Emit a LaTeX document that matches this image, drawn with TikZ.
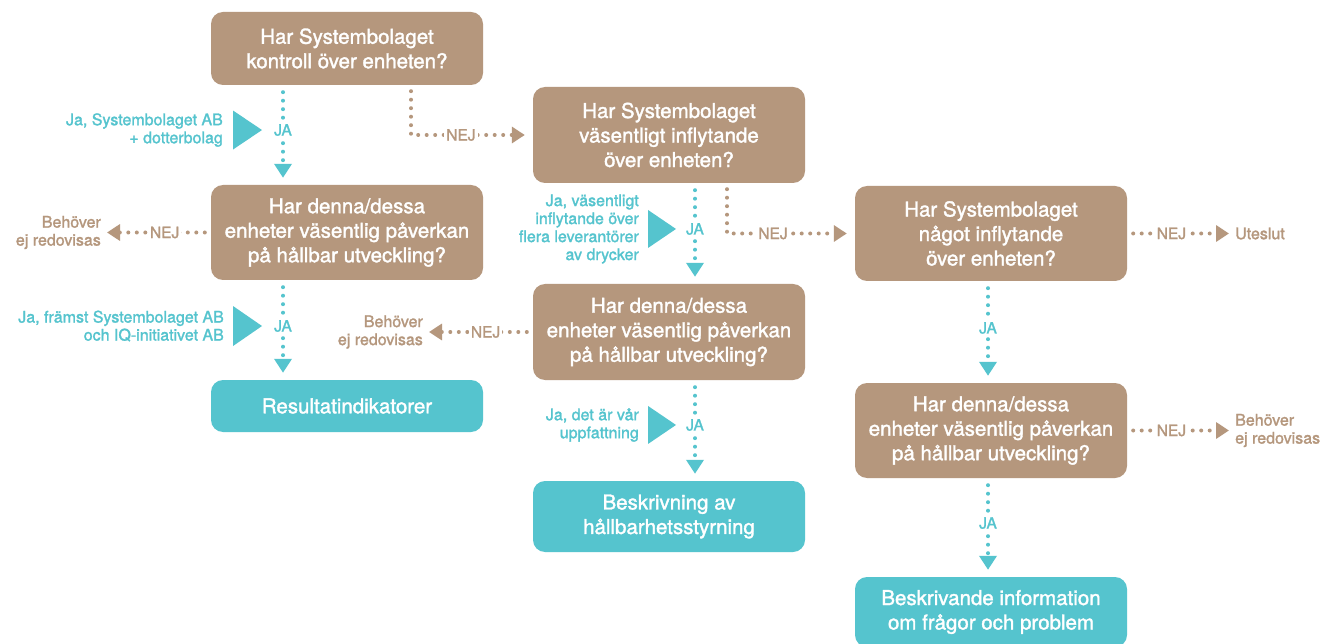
\documentclass[tikz,border=0pt]{standalone}
\usepackage{fontspec}
\setmainfont{TeX Gyre Heros}[FakeBold=1.6]
\usetikzlibrary{arrows.meta}
\definecolor{brn}{HTML}{B5977D}
\definecolor{tl}{HTML}{55C4CE}
\begin{document}
\begin{tikzpicture}[x=1pt,y=-1pt,
 box/.style={rounded corners=12pt, minimum width=272pt, align=center, text=white, font=\fontsize{20.5}{24.5}\selectfont, inner sep=0pt},
 qbox/.style={box, fill=brn},
 rbox/.style={box, fill=tl},
 dots/.style={line width=4pt, line cap=round, dash pattern=on 0pt off 8.5pt},
 jaline/.style={dots, tl, -{Triangle[width=17pt,length=14pt]}, shorten <=7pt, shorten >=7pt},
 nejline/.style={dots, brn, -{Triangle[width=16pt,length=13pt]}, shorten <=6pt, shorten >=6pt},
 lbl/.style={fill=white, font=\fontsize{15.5}{18}\selectfont, inner sep=2pt},
 jalbl/.style={lbl, text=tl},
 nejlbl/.style={lbl, text=brn},
 side/.style={font=\fontsize{16}{18}\selectfont, align=right, text=tl, inner sep=0pt, anchor=east},
 outl/.style={font=\fontsize{16}{18}\selectfont, text=brn, inner sep=0pt},
 flag/.style={fill=tl}
]
\clip (0,0) rectangle (1325,644);
\fill[white] (0,0) rectangle (1325,644);

% boxes
\node[qbox, minimum height=73pt] (b1) at (347,48.5) {Har Systembolaget\\kontroll över enheten?};
\node[qbox, minimum height=96pt] (b2) at (669,135) {Har Systembolaget\\väsentligt inflytande\\över enheten?};
\node[qbox, minimum height=95pt] (b3) at (347,232.5) {Har denna/dessa\\enheter väsentlig påverkan\\på hållbar utveckling?};
\node[qbox, minimum height=95pt] (b4) at (991,233.5) {Har Systembolaget\\något inflytande\\över enheten?};
\node[qbox, minimum height=96pt] (b5) at (669,332) {Har denna/dessa\\enheter väsentlig påverkan\\på hållbar utveckling?};
\node[rbox, minimum height=52pt] (b6) at (347,406) {Resultatindikatorer};
\node[qbox, minimum height=95pt] (b7) at (991,430.5) {Har denna/dessa\\enheter väsentlig påverkan\\på hållbar utveckling?};
\node[rbox, minimum height=71pt] (b8) at (669,516.5) {Beskrivning av\\hållbarhetsstyrning};
\node[rbox, minimum height=70pt] (b9) at (991,612) {Beskrivande information\\om frågor och problem};

% outcome labels
\node[outl, anchor=east, align=right] (o1) at (101,232.5) {Behöver\\ej redovisas};
\node[outl, anchor=east, align=right] (o2) at (423,332) {Behöver\\ej redovisas};
\node[outl, anchor=west, align=left] (o3) at (1235,233.5) {Uteslut};
\node[outl, anchor=west, align=left] (o4) at (1235,430.5) {Behöver\\ej redovisas};

% JA connectors
\draw[jaline] ([xshift=-64pt]b1.south) -- ([xshift=-64pt]b3.north) node[jalbl, pos=0.45] (ja1) {JA};
\draw[jaline] ([xshift=-64pt]b3.south) -- ([xshift=-64pt]b6.north) node[jalbl, pos=0.46] (ja2) {JA};
\draw[jaline] ([xshift=26pt]b2.south) -- ([xshift=26pt]b5.north) node[jalbl, pos=0.455] (ja3) {JA};
\draw[jaline] ([xshift=26pt]b5.south) -- ([xshift=26pt]b8.north) node[jalbl, pos=0.445] (ja4) {JA};
\draw[jaline] ([xshift=-3pt]b4.south) -- ([xshift=-3pt]b7.north) node[jalbl, pos=0.46] (ja5) {JA};
\draw[jaline] ([xshift=-3pt]b7.south) -- ([xshift=-3pt]b9.north) node[jalbl, pos=0.455] (ja6) {JA};

% flags and side texts
\fill[flag] ([xshift=-21pt]ja1.center) -- ++(-29,-19.5) -- ++(0,39) -- cycle;
\node[side] (s1) at ([xshift=-60pt]ja1.center) {Ja, Systembolaget AB\\+ dotterbolag};
\fill[flag] ([xshift=-21pt]ja2.center) -- ++(-29,-20) -- ++(0,40) -- cycle;
\node[side] (s2) at ([xshift=-59pt]ja2.center) {Ja, främst Systembolaget AB\\och IQ-initiativet AB};
\fill[flag] ([xshift=-19pt]ja3.center) -- ++(-28,-19) -- ++(0,38) -- cycle;
\node[side] (s3) at ([xshift=-56pt]ja3.center) {Ja, väsentligt\\inflytande över\\flera leverantörer\\av drycker};
\fill[flag] ([xshift=-19pt]ja4.center) -- ++(-28,-19) -- ++(0,38) -- cycle;
\node[side] (s4) at ([xshift=-56pt]ja4.center) {Ja, det är vår\\uppfattning};

% NEJ connectors
\draw[nejline, shorten >=8pt] ([xshift=64pt]b1.south) |- (b2.west) node[nejlbl, pos=0.705] {NEJ};
\draw[nejline, shorten >=8pt] ([xshift=58pt]b2.south) |- (b4.west) node[nejlbl, pos=0.68] {NEJ};
\draw[nejline] (b3.west) -- (o1.east) node[nejlbl, pos=0.42] {NEJ};
\draw[nejline] (b5.west) -- (o2.east) node[nejlbl, pos=0.43] {NEJ};
\draw[nejline] (b4.east) -- (o3.west) node[nejlbl, pos=0.41] {NEJ};
\draw[nejline] (b7.east) -- (o4.west) node[nejlbl, pos=0.41] {NEJ};
\end{tikzpicture}
\end{document}
